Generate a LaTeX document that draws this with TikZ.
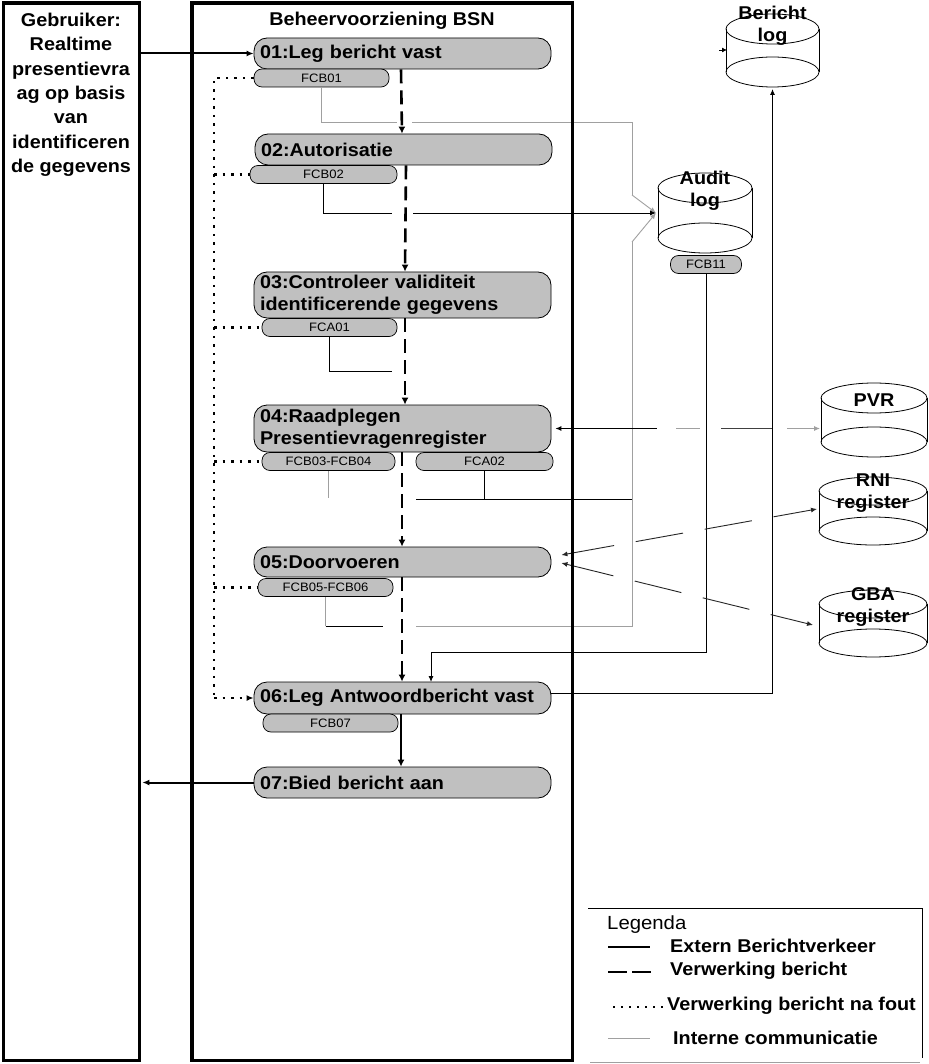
\documentclass[tikz,border=0pt]{standalone}
\usepackage{fontspec}
\setmainfont{Liberation Sans}[FakeStretch=1.07]
\usetikzlibrary{arrows.meta}
\definecolor{procgray}{RGB}{192,192,192}
\definecolor{intgray}{RGB}{160,160,160}
\newcommand\myBig{\fontsize{18.5pt}{22pt}\selectfont\bfseries}
\newcommand\myUser{\fontsize{18.5pt}{24.3pt}\selectfont\bfseries}
\newcommand\mySmall{\fontsize{12.2pt}{13pt}\selectfont}
\newcommand\myLeg{\fontsize{19pt}{22pt}\selectfont}
\begin{document}
\begin{tikzpicture}[x=1pt,y=-1pt,
  proc/.style={draw=black, line width=0.8pt, fill=procgray, rounded corners=13pt, text width=285pt, inner xsep=6pt, inner ysep=0pt, align=left, font=\myBig},
  tag/.style={draw=black, line width=0.7pt, fill=procgray, rounded corners=8pt, minimum height=18pt, inner sep=0pt, font=\mySmall},
  frame/.style={inner sep=0pt, anchor=north west},
  framedraw/.style={draw=black, line width=3.5pt},
  ext/.style={line width=2pt, -{Latex[length=7pt,width=6pt]}},
  flow/.style={line width=2.6pt, dash pattern=on 14pt off 7pt, -{Latex[length=7pt,width=7pt]}},
  err/.style={line width=2.2pt, dash pattern=on 2.5pt off 6pt},
  int/.style={line width=0.9pt, draw=intgray},
  blk/.style={line width=0.9pt, draw=black},
  dsh/.style={line width=0.9pt, draw=black!85, dash pattern=on 48pt off 22pt},
  cyl/.style={line width=0.8pt, draw=black},
  tip/.style={-{Latex[length=6pt,width=5pt]}},
  twotip/.style={{Latex[length=6pt,width=5pt]}-{Latex[length=6pt,width=5pt]}},
  cyltext/.style={font=\myBig, align=center, inner sep=0pt},
  legtext/.style={font=\myBig, anchor=west, inner sep=0pt},
]
\useasboundingbox (0,0) rectangle (928,1064);
\fill[white] (0,0) rectangle (928,1064);

% frames (named, drawn at the end)
\node[frame, minimum width=135.5pt, minimum height=1057pt] (user) at (3.5,3) {};
\node[frame, minimum width=380pt, minimum height=1057pt] (bsn) at (192,3) {};
\node[font=\myUser, align=center, anchor=north, inner sep=0pt] (usertext) at (71,13)
  {Gebruiker:\\Realtime\\presentievra\\ag op basis\\van\\identificeren\\de gegevens};
\node[font=\myBig, anchor=base, inner sep=0pt] (title) at (382,25.5) {Beheervoorziening BSN};

% process steps
\node[proc, minimum height=31pt] (p1) at (402.5,53.5) {01:Leg bericht vast};
\node[tag, minimum width=135pt] (s1) at (321.5,78) {FCB01};
\node[proc, minimum height=31pt] (p2) at (403.5,149.5) {02:Autorisatie};
\node[tag, minimum width=147pt] (s2) at (323.5,174.5) {FCB02};
\node[proc, minimum height=46pt] (p3) at (402.5,295) {03:Controleer validiteit\\identificerende gegevens};
\node[tag, minimum width=135pt] (s3) at (329.5,327.5) {FCA01};
\node[proc, minimum height=47pt] (p4) at (402.5,428.5) {04:Raadplegen\\Presentievragenregister};
\node[tag, minimum width=133pt] (s4a) at (328.5,461.5) {FCB03-FCB04};
\node[tag, minimum width=137pt] (s4b) at (484.5,461.5) {FCA02};
\node[proc, minimum height=30pt] (p5) at (402.5,562) {05:Doorvoeren};
\node[tag, minimum width=135pt] (s5) at (325.5,587.5) {FCB05-FCB06};
\node[proc, minimum height=32pt] (p6) at (402.5,698) {06:Leg Antwoordbericht vast};
\node[tag, minimum width=135pt] (s6) at (330.5,723) {FCB07};
\node[proc, minimum height=31pt] (p7) at (402.5,782.5) {07:Bied bericht aan};

% data stores
\newcommand\mycyl[5]{%
  \draw[cyl] (#1-#4,#2) -- (#1-#4,#3) (#1+#4,#2) -- (#1+#4,#3);
  \draw[cyl] (#1,#2) ellipse[x radius=#4pt, y radius=#5pt];
  \draw[cyl] (#1,#3) ellipse[x radius=#4pt, y radius=#5pt];}
\mycyl{705}{188}{238}{47}{15}
\mycyl{772.5}{29}{72}{46.5}{15}
\mycyl{874}{398}{442}{53}{15}
\mycyl{873}{491}{531}{54}{14}
\mycyl{873}{604}{643}{54}{14}
\node[cyltext] (audit) at (705,191) {Audit\\log};
\node[cyltext] (bericht) at (772.5,26) {Bericht\\log};
\node[cyltext] (pvr) at (874,400) {PVR};
\node[cyltext] (rni) at (873,493) {RNI\\register};
\node[cyltext] (gba) at (873,607) {GBA\\register};
\node[tag, minimum width=71pt] (s11) at (706,264.5) {FCB11};

\coordinate (auditin) at (656,213);
\coordinate (berin) at (772.5,89);
\coordinate (pvrin) at (820,428.5);
\coordinate (rniin) at (817,509);
\coordinate (gbain) at (813,625);

% external traffic
\draw[ext] (user.east |- p1.west) -- (p1.west);
\draw[ext] (p7.west) -- ([xshift=3pt]user.east |- p7.west);

% processing flow
\draw[flow] ([xshift=-1.5pt]p1.south) -- ([xshift=-1.5pt]p2.north);
\draw[flow] ([xshift=2.5pt]p2.south) -- ([xshift=2.5pt]p3.north);
\draw[flow] ([xshift=2.5pt]p3.south) -- ([xshift=2.5pt]p4.north);
\draw[flow] ([xshift=-0.5pt]p4.south) -- ([xshift=-0.5pt]p5.north);
\draw[flow] ([xshift=-0.5pt]p5.south) -- ([xshift=-0.5pt]p6.north);
\draw[line width=1.4pt, -{Latex[length=7pt,width=7pt]}] ([xshift=-1.5pt]p6.south) -- ([xshift=-1.5pt]p7.north);

% error flow
\coordinate (etop) at (214,78);
\coordinate (ebot) at (214,698);
\draw[err] (s1.west) -- (etop) -- (ebot);
\draw[err, -{Latex[length=7pt,width=6pt]}] (ebot) -- (p6.west);
\draw[err] (etop |- s2.west) -- (s2.west);
\draw[err] (etop |- s3.west) -- (s3.west);
\draw[err] (etop |- s4a.west) -- (s4a.west);
\draw[err] (etop |- s5.west) -- (s5.west);

% internal communication to audit log
\draw[int] (s1.south) |- (397,122) (412,122) -- (632,122) -- (632,195);
\draw[int, tip] (632,195) -- (auditin);
\draw[blk] (s2.south) |- (392,213);
\draw[blk, tip] (413,213) -- (auditin);
\draw[blk] (s3.south) |- (392,371);
\draw[int] (s4a.south) -- ++(0,27);
\draw[blk] (s4b.south) -- (s4b.south |- 0,499);
\draw[blk] (416,499) -- (632,499);
\draw[int] (s5.south) -- (s5.south |- 0,626);
\draw[blk] (s5.south |- 0,626) -- (383,626);
\draw[int] (416,626.5) -- (632,626.5) -- (632,242);
\draw[int, tip] (632,242) -- (auditin);

% audit log to step 06, step 06 to bericht log
\draw[blk, tip] (s11.south) |- (431,652) -- (431,682);
\draw[blk, tip] ([yshift=5pt]p6.east) -| (berin);
\draw[-{Latex[length=5pt,width=5pt]}, line width=0.8pt] (719,50) -- (727,50);

% registers
\draw[blk, {Latex[length=6pt,width=5pt]}-] ([xshift=4pt]p4.east) -- (657,428.5);
\draw[int] (676,428.5) -- (700,428.5);
\draw[blk, draw=black!75] (721,428.5) -- (772,428.5);
\draw[int, tip] (787,428.5) -- (pvrin);
\draw[dsh, twotip] ([xshift=10pt,yshift=7pt]p5.east) -- (rniin);
\draw[dsh, twotip] ([xshift=10pt,yshift=-1pt]p5.east) -- (gbain);

% frames
\draw[framedraw] (user.north west) rectangle (user.south east);
\draw[framedraw] (bsn.north west) rectangle (bsn.south east);

% legend
\draw[line width=0.9pt] (588,908) -- (922,908) -- (922,1058);
\draw[int] (590,1062) -- (920,1062);
\node[font=\myLeg, anchor=west, inner sep=0pt] (legtitle) at (607,925) {Legenda};
\coordinate (l1a) at (608,947); \coordinate (l1b) at (650,947);
\draw[line width=2.2pt] (l1a) -- (l1b);
\node[legtext] (leg1) at (670,946) {Extern Berichtverkeer};
\coordinate (l2a) at (608,972); \coordinate (l2b) at (651,972);
\draw[line width=2.2pt, dash pattern=on 19pt off 5pt] (l2a) -- (l2b);
\node[legtext] (leg2) at (670,971) {Verwerking bericht};
\coordinate (l3a) at (613,1007); \coordinate (l3b) at (666,1007);
\draw[line width=1.6pt, dash pattern=on 2pt off 6pt] (l3a) -- (l3b);
\node[legtext] (leg3) at (667,1006) {Verwerking bericht na fout};
\coordinate (l4a) at (608,1038); \coordinate (l4b) at (650,1038);
\draw[int] (l4a) -- (l4b);
\node[legtext] (leg4) at (673,1038) {Interne communicatie};
\end{tikzpicture}
\end{document}
